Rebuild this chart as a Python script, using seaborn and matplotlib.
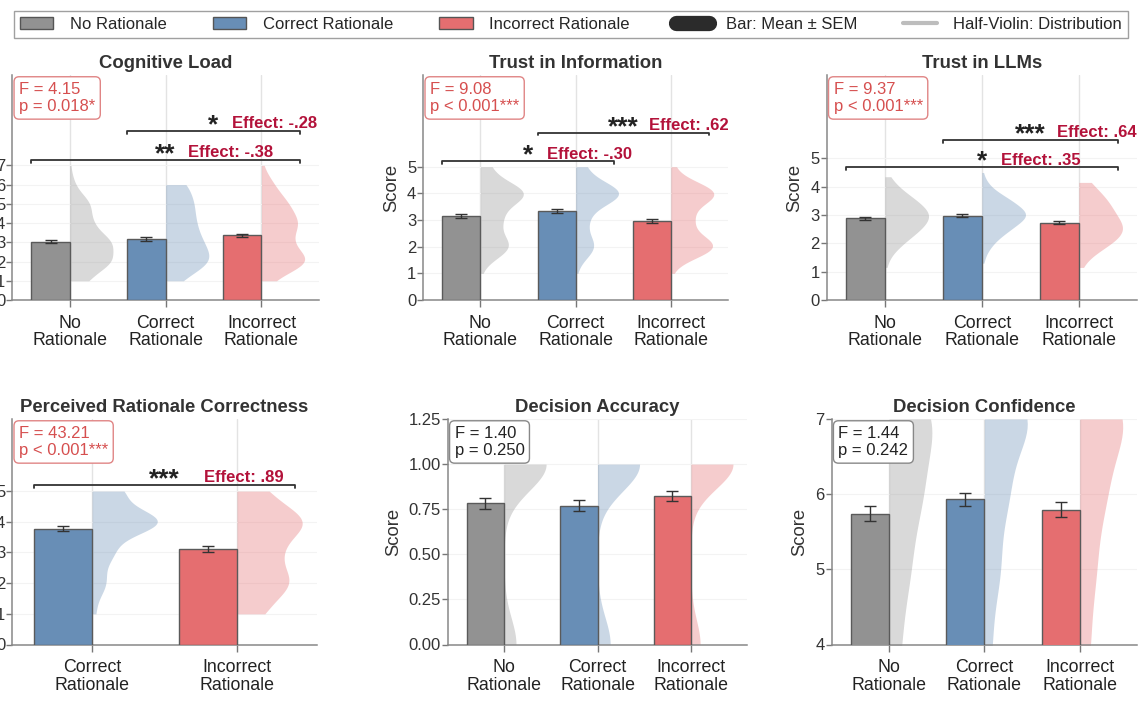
import numpy as np
import pandas as pd
import matplotlib
matplotlib.use("Agg")
import matplotlib.pyplot as plt
import seaborn as sns
from matplotlib.patches import Patch
from matplotlib.lines import Line2D

sns.set_theme(style="whitegrid")
plt.rcParams["font.family"] = ["Liberation Sans", "DejaVu Sans"]

# ---------------- data ----------------
CATS3 = ["No Rationale", "Correct Rationale", "Incorrect Rationale"]
CATS2 = ["Correct Rationale", "Incorrect Rationale"]
LIKERT5 = [1, 2, 3, 4, 5]
LIKERT7 = [1, 2, 3, 4, 5, 6, 7]
BINARY = [0, 1]

# bar means / SEMs
COG_MEAN = [3.03, 3.17, 3.36]
COG_SEM = [0.09, 0.09, 0.09]
INFO_MEAN = [3.14, 3.33, 2.95]
INFO_SEM = [0.075, 0.075, 0.075]
LLM_MEAN = [2.88, 2.98, 2.73]
LLM_SEM = [0.06, 0.05, 0.055]
PRC_MEAN = [3.78, 3.11]
PRC_SEM = [0.07, 0.085]
ACC_MEAN = [0.783, 0.770, 0.824]
ACC_SEM = [0.03, 0.03, 0.028]
CONF_MEAN = [5.74, 5.93, 5.79]
CONF_SEM = [0.10, 0.085, 0.10]

# response distributions (counts per response level) for the half-violins
COG_COUNTS_NO = [24, 60, 60, 30, 30, 6, 1]
COG_COUNTS_CORRECT = [14, 54, 40, 32, 31, 25, 0]
COG_COUNTS_INCORRECT = [10, 60, 31, 44, 31, 14, 1]
INFO_COUNTS_NO = [1, 54, 36, 84, 17]
INFO_COUNTS_CORRECT = [2, 41, 24, 100, 20]
INFO_COUNTS_INCORRECT = [1, 74, 34, 76, 5]
LLM_LEVELS_NO = [1.15, 1.5, 2.0, 2.5, 3.0, 3.5, 4.0, 4.35]
LLM_COUNTS_NO = [1, 4, 22, 45, 60, 40, 14, 2]
LLM_LEVELS_CORRECT = [1.3, 1.5, 2.0, 2.5, 3.0, 3.5, 4.0, 4.5]
LLM_COUNTS_CORRECT = [1, 3, 16, 42, 75, 45, 10, 1]
LLM_LEVELS_INCORRECT = [1.15, 1.5, 2.0, 2.5, 3.0, 3.5, 4.0, 4.15]
LLM_COUNTS_INCORRECT = [1, 8, 38, 55, 38, 34, 14, 4]
PRC_COUNTS_CORRECT = [4, 16, 24, 80, 36]
PRC_COUNTS_INCORRECT = [20, 42, 30, 55, 22]
ACC_COUNTS_NO = [42, 148]
ACC_COUNTS_CORRECT = [44, 146]
ACC_COUNTS_INCORRECT = [34, 156]
CONF_COUNTS_NO = [4, 6, 9, 18, 32, 50, 72]
CONF_COUNTS_CORRECT = [2, 4, 6, 14, 30, 45, 90]
CONF_COUNTS_INCORRECT = [3, 5, 8, 18, 28, 45, 85]

# ANOVA results
COG_STATS = ["F = 4.15", "p = 0.018*"]
INFO_STATS = ["F = 9.08", "p < 0.001***"]
LLM_STATS = ["F = 9.37", "p < 0.001***"]
PRC_STATS = ["F = 43.21", "p < 0.001***"]
ACC_STATS = ["F = 1.40", "p = 0.250"]
CONF_STATS = ["F = 1.44", "p = 0.242"]

# pairwise comparisons: (group a, group b, stars, effect)
COG_PAIRS = [(0, 2, "**", "Effect: -.38"), (1, 2, "*", "Effect: -.28")]
INFO_PAIRS = [(0, 1, "*", "Effect: -.30"), (1, 2, "***", "Effect: .62")]
LLM_PAIRS = [(0, 2, "*", "Effect: .35"), (1, 2, "***", "Effect: .64")]
PRC_PAIRS = [(0, 1, "***", "Effect: .89")]

# ---------------- style ----------------
COLORS = {"No Rationale": "#929292", "Correct Rationale": "#688eb6",
          "Incorrect Rationale": "#e56e70"}
SIG_RED = "#d64f4f"
EFFECT_RED = "#b3123a"
W, H = 1140, 717


def ax_rect(left, top, right, bottom):
    return [left / W, 1 - bottom / H, (right - left) / W, (bottom - top) / H]


fig = plt.figure(figsize=(W / 100, H / 100), dpi=100)


def make_panel(rect, title, cats, means, sems, levels_list, counts_list,
               stats, pairs, ylim, yticks, yfmt=None, bw_adjust=1.0):
    ax = fig.add_axes(rect)
    # bars (left half of each category slot)
    bar_df = pd.DataFrame({"cond": cats, "score": means, "part": "bar"})
    sns.barplot(data=bar_df, x="cond", y="score", hue="part",
                hue_order=["bar", "violin"], order=cats, dodge=True, width=0.8,
                errorbar=None, palette={"bar": "#999999", "violin": "#999999"},
                saturation=1, edgecolor="#5a5a5a", linewidth=1.0, legend=False,
                ax=ax, zorder=3)
    bars = sorted(ax.patches, key=lambda p: p.get_x())
    for p, c in zip(bars, cats):
        p.set_facecolor(COLORS[c])
    centers = [p.get_x() + p.get_width() / 2 for p in bars]
    ax.errorbar(centers, means, yerr=sems, fmt="none", ecolor="#333333",
                elinewidth=1.0, capsize=4, capthick=1.0, zorder=5)

    # half violins (right half of each category slot)
    frames = []
    for c, lv, ct in zip(cats, levels_list, counts_list):
        frames.append(pd.DataFrame({"cond": c, "score": np.repeat(lv, ct),
                                    "part": "violin"}))
    vdf = pd.concat(frames, ignore_index=True)
    n_before = len(ax.collections)
    sns.violinplot(data=vdf, x="cond", y="score", hue="part",
                   hue_order=["bar", "violin"], order=cats, split=True,
                   dodge=True, width=0.9, inner=None, cut=0,
                   density_norm="width", bw_adjust=bw_adjust, saturation=1,
                   palette={"bar": "#999999", "violin": "#999999"},
                   linewidth=0, legend=False, ax=ax)
    vcols = ax.collections[n_before:]
    for coll, c in zip(vcols, cats):
        coll.set_facecolor(COLORS[c])
        coll.set_alpha(0.35)
        coll.set_zorder(2)

    # axes cosmetics
    n = len(cats)
    ax.set_xlim(-0.6, n - 0.4) if n == 3 else ax.set_xlim(-0.55, n - 0.45)
    ax.set_ylim(*ylim)
    ax.set_yticks(yticks)
    if yfmt:
        ax.set_yticklabels([yfmt.format(t) for t in yticks])
    ax.set_xticks(range(n))
    ax.set_xticklabels([c.replace(" ", "\n") for c in cats], fontsize=12.8,
                       linespacing=1.05, color="#222222")
    ax.set_xlabel("")
    ax.set_ylabel("Score", fontsize=13.3, color="#333333", labelpad=5)
    ax.set_title(title, fontsize=13.3, fontweight="bold", color="#333333", pad=5)
    ax.tick_params(axis="x", bottom=True, length=5, width=1, color="#777777",
                   pad=5.5)
    ax.tick_params(axis="y", left=True, length=4, width=1, color="#777777",
                   pad=1, labelsize=12, labelcolor="#333333")
    ax.grid(axis="x", color="#e3e3e3", lw=1.0)
    ax.grid(axis="y", color="#f3f3f3", lw=0.8)
    ax.set_axisbelow(True)
    for s in ["top", "right"]:
        ax.spines[s].set_visible(False)
    for s in ["left", "bottom"]:
        ax.spines[s].set_color("#888888")
        ax.spines[s].set_linewidth(1.1)

    # ANOVA box
    sig = "*" in stats[1]
    ax.text(0.022, 0.97, "\n".join(stats), transform=ax.transAxes,
            ha="left", va="top", fontsize=12, linespacing=1.2,
            color=SIG_RED if sig else "#222222", zorder=10,
            bbox=dict(boxstyle="round,pad=0.3", fc="white",
                      ec="#e08585" if sig else "#888888", lw=1.0))

    # significance brackets
    dmax = max(max(lv) for lv in levels_list)
    span = ylim[1] - ylim[0]
    for k, (a, b, stars, eff) in enumerate(pairs):
        y = dmax * 1.04 + k * 0.215 * dmax
        tick = 0.012 * span
        ax.plot([a - 0.4, a - 0.4, b + 0.4, b + 0.4], [y - tick, y, y, y - tick],
                color="#333333", lw=1.3, clip_on=False, zorder=6)
        cx = (a + b) / 2
        ax.annotate(stars, xy=(cx, y), xytext=(0, -1), textcoords="offset points",
                    ha="center", va="baseline", fontsize=19, fontweight="bold",
                    color="#222222")
        ax.annotate(eff, xy=(cx + 0.16 + 0.037 * len(stars), y), xytext=(0, 2),
                    textcoords="offset points", ha="left", va="baseline",
                    fontsize=12, fontweight="bold", color=EFFECT_RED)
    return ax


make_panel(ax_rect(12.3, 75, 319, 300), "Cognitive Load", CATS3, COG_MEAN, COG_SEM,
           [LIKERT7] * 3, [COG_COUNTS_NO, COG_COUNTS_CORRECT, COG_COUNTS_INCORRECT],
           COG_STATS, COG_PAIRS, (0, 11.7), list(range(0, 8)), bw_adjust=1.2)
make_panel(ax_rect(423.3, 75, 728, 300), "Trust in Information", CATS3, INFO_MEAN,
           INFO_SEM, [LIKERT5] * 3,
           [INFO_COUNTS_NO, INFO_COUNTS_CORRECT, INFO_COUNTS_INCORRECT],
           INFO_STATS, INFO_PAIRS, (0, 8.44), list(range(0, 6)), bw_adjust=1.3)
make_panel(ax_rect(826.7, 75, 1137, 300), "Trust in LLMs", CATS3, LLM_MEAN, LLM_SEM,
           [LLM_LEVELS_NO, LLM_LEVELS_CORRECT, LLM_LEVELS_INCORRECT],
           [LLM_COUNTS_NO, LLM_COUNTS_CORRECT, LLM_COUNTS_INCORRECT],
           LLM_STATS, LLM_PAIRS, (0, 7.94), list(range(0, 6)), bw_adjust=1.6)
make_panel(ax_rect(12.3, 419, 316.7, 644.5), "Perceived Rationale Correctness",
           CATS2, PRC_MEAN, PRC_SEM, [LIKERT5] * 2,
           [PRC_COUNTS_CORRECT, PRC_COUNTS_INCORRECT],
           PRC_STATS, PRC_PAIRS, (0, 7.35), list(range(0, 6)), bw_adjust=1.2)
make_panel(ax_rect(448, 419, 747, 644.5), "Decision Accuracy", CATS3, ACC_MEAN,
           ACC_SEM, [BINARY] * 3,
           [ACC_COUNTS_NO, ACC_COUNTS_CORRECT, ACC_COUNTS_INCORRECT],
           ACC_STATS, [], (0, 1.25), [0, 0.25, 0.5, 0.75, 1.0, 1.25],
           yfmt="{:.2f}")
make_panel(ax_rect(831.7, 419, 1137, 644.5), "Decision Confidence", CATS3,
           CONF_MEAN, CONF_SEM, [LIKERT7] * 3,
           [CONF_COUNTS_NO, CONF_COUNTS_CORRECT, CONF_COUNTS_INCORRECT],
           CONF_STATS, [], (4, 7), [4, 5, 6, 7])

# legend
handles = [Patch(facecolor=COLORS[c], edgecolor="#555555", lw=1) for c in CATS3]
handles += [Line2D([0], [0], color="#2b2b2b", lw=11, solid_capstyle="round"),
            Line2D([0], [0], color="#bdbdbd", lw=3)]
labels = CATS3 + ["Bar: Mean ± SEM", "Half-Violin: Distribution"]
fig.legend(handles, labels, loc="lower left",
           bbox_to_anchor=(14 / W, 1 - 38 / H, 1114 / W, 30 / H), mode="expand",
           ncol=5, frameon=True, fancybox=False, edgecolor="#888888",
           fontsize=12, handlelength=2.0, handletextpad=1.0, borderaxespad=0,
           borderpad=0.35)

fig.savefig("out.png", dpi=100)
